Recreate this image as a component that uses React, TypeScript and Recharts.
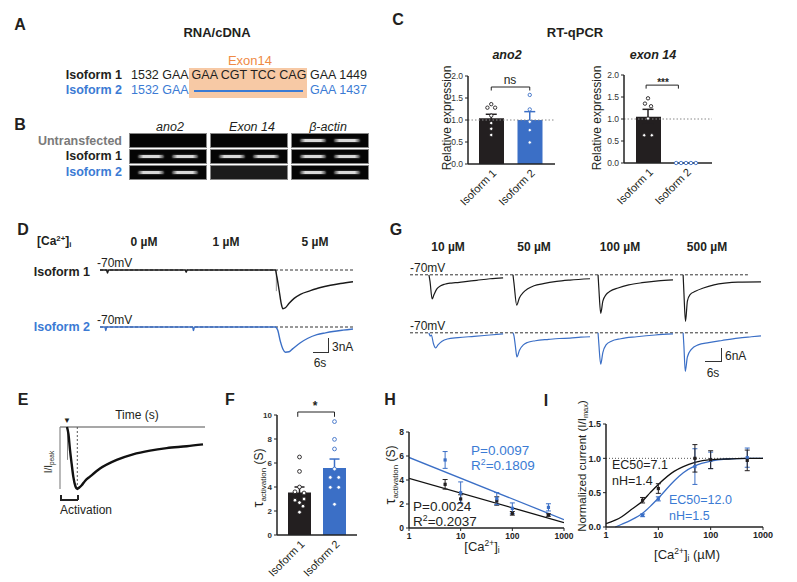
import React from "react";
import {
  ComposedChart,
  LineChart,
  Line,
  Bar,
  Cell,
  Scatter,
  ErrorBar,
  XAxis,
  YAxis,
  ReferenceLine,
} from "recharts";

const FONT = "'Liberation Sans', Arial, Helvetica, sans-serif";
const BLACK = "#231f20";
const BLUE = "#3b6fc6";
const BLUE_TXT = "#3b7bd4";
const ORANGE = "#ef8a45";
const AX = "#222";

// ---- C: RT-qPCR ----
const isoforms = ["Isoform 1", "Isoform 2"];
const ano2Mean = [1.04, 1.0];
const ano2Sem = [0.09, 0.19];
const ano2Iso1 = [1.36, 1.28, 1.28, 1.1, 0.93, 0.8, 0.66];
const ano2Iso1Jit = [0, -0.1, 0.1, 0, 0, 0, 0];
const ano2Iso2 = [1.57, 1.24, 0.96, 0.77, 0.49];
const ano2Iso2Jit = [0, 0, 0, 0, 0];
const exonMean = [1.05, 0];
const exonSem = [0.17, 0];
const exonIso1 = [1.47, 1.35, 1.29, 1.01, 0.63, 0.63];
const exonIso1Jit = [0, -0.08, 0.08, 0, -0.1, 0.1];
const exonIso2 = [0, 0, 0, 0, 0];
const exonIso2Jit = [-0.26, -0.13, 0, 0.13, 0.26];
const relTicks = [0, 0.5, 1, 1.5, 2];

// ---- F: tau activation ----
const tauMean = [3.55, 5.58];
const tauSem = [0.45, 0.75];
const tauIso1 = [6.5, 5.3, 4.0, 3.6, 3.5, 3.0, 2.9, 2.7, 2.4, 1.9];
const tauIso1Jit = [0, 0, 0, -0.13, 0.13, 0.13, -0.13, 0, 0.1, 0];
const tauIso2 = [9.45, 7.97, 7.17, 5.5, 4.8, 4.8, 3.97, 3.97, 2.56];
const tauIso2Jit = [0, 0, 0, 0, -0.12, 0.12, -0.12, 0.12, 0];
const tauTicks = [0, 2, 4, 6, 8, 10];

// ---- H: tau vs Ca ----
const conc = [5, 10, 50, 100, 500];
const hIso1 = [3.64, 2.42, 2.25, 1.22, 1.08];
const hIso1Err = [0.4, 0.35, 0.35, 0.15, 0.1];
const hIso2 = [5.67, 2.94, 2.45, 1.64, 1.72];
const hIso2Err = [0.7, 0.9, 0.5, 0.45, 0.3];
const hFitX = [1, 1000];
const hFit1 = [4.14, 0.45];
const hFit2 = [5.88, 0.7];
const hTicks = [0, 2, 4, 6, 8];
const logTicks = [1, 10, 100, 1000];

// ---- I: dose response ----
const iIso1 = [0.39, 0.56, 1.0, 0.98, 0.97];
const iIso1Err = [0.04, 0.07, 0.2, 0.13, 0.15];
const iIso2 = [0.17, 0.41, 0.88, 0.97, 1.01];
const iIso2Err = [0.02, 0.03, 0.26, 0.12, 0.14];
const iFit1X = [1, 2, 3, 5, 7, 10, 20, 30, 50, 100, 200, 500, 1000];
const iFit1 = [0.05, 0.15, 0.25, 0.38, 0.5, 0.62, 0.81, 0.88, 0.94, 0.98, 0.99, 1.0, 1.0];
const iFit2X = [1.5, 2, 3, 5, 7, 10, 20, 30, 50, 100, 200, 500, 1000];
const iFit2 = [0.0, 0.04, 0.1, 0.2, 0.3, 0.42, 0.67, 0.79, 0.89, 0.96, 0.99, 1.0, 1.0];
const normTicks = [0, 0.5, 1, 1.5];

// ---- D traces (t in s, current in nA) ----
const d1Trace = [[0, 0], [2.6, 0], [3, -0.7], [3.4, 0], [34, 0], [34.4, -0.5], [34.8, 0], [70, 0], [70.6, -1.5], [71.5, -4.5], [72.4, -7.6], [73, -8.6], [74, -8.4], [75.5, -7.4], [77.5, -6.3], [80, -5.4], [84, -4.6], [88, -3.9], [92, -3.4], [96, -3.0], [101, -2.6]];
const d1Artifact = [[70.4, 0], [70.4, -4.7]];
const d2Trace = [[0, 0], [2, 0], [2.3, -0.8], [2.7, 0], [37, 0], [37.3, -0.8], [37.7, 0], [70, 0], [71, -0.8], [72, -3.2], [73, -4.9], [74, -5.6], [75.5, -5.5], [77, -4.8], [80, -3.5], [83, -2.5], [86.6, -1.7], [90, -1.3], [93, -1.0], [97, -0.7], [101, -0.45]];

// ---- G traces ----
const g1Traces = [
  [[7.1, 0], [7.5, -3], [8.3, -11], [9, -9], [10, -6.5], [11.5, -5], [13, -4.3], [15, -3.8], [17, -3.6], [20, -3.2], [25, -2.5], [30, -1.8], [34.9, -1.4]],
  [[38.6, 0], [39, -4], [40, -13.8], [41, -10.5], [42.5, -8], [44, -6.5], [46.5, -5], [50, -4], [55, -3], [60, -2.4], [67.5, -1.8]],
  [[70.5, 0], [70.8, -6], [71.5, -17.5], [72.3, -12], [73.5, -9], [75, -7.5], [78, -6], [82, -4.6], [87, -3.6], [93, -2.8], [98.6, -2.3]],
  [[102.4, 0], [102.7, -8], [103.3, -21.2], [104, -12], [105, -9], [107, -7.5], [110, -6], [114, -4.6], [118, -3.8], [123, -3.3], [131.6, -3.2]],
];
const g2Traces = [
  [[7.1, 0], [7.6, -1.5], [8.0, -1.0], [8.8, -5], [9.6, -6.9], [10.5, -5.5], [12, -3.8], [14, -2.8], [18, -2.2], [24, -1.6], [30, -1.0], [34.9, -0.5]],
  [[38.6, 0], [39, -1.5], [39.5, -6], [40.1, -11], [41, -8], [42.5, -5.5], [44, -4.4], [47, -3.6], [52, -3], [56, -2.6], [60, -2.4], [64, -2.0], [67.5, -1.8]],
  [[70.5, 0], [70.8, -5], [71.5, -14.3], [72.3, -9], [73.5, -5.5], [75.5, -3.8], [79, -2.7], [85, -1.8], [92, -1.0], [98.6, -0.5]],
  [[102.4, 0], [102.7, -6], [103.2, -17.5], [104, -11], [105.5, -7.5], [108, -5.5], [112, -4.5], [117, -3.5], [123, -2.4], [128, -1.8], [131.6, -1.4]],
];

// ---- E trace (normalized) ----
const eTrace = [[7, 0], [8.5, -0.12], [10, -0.37], [11.7, -0.6], [13.3, -0.8], [15.5, -0.96], [17.3, -1], [19, -0.98], [21.7, -0.94], [25, -0.87], [30, -0.8], [40, -0.67], [56.7, -0.53], [73, -0.44], [90, -0.38], [106.7, -0.34], [126.7, -0.31], [143, -0.28]];
const eArtifact = [[7.5, 0], [7.5, -0.53]];

// ---- B gel ----
const gelLanes = ["ano2", "Exon 14", "β-actin"];
const gelRows = ["Untransfected", "Isoform 1", "Isoform 2"];
const gelBands = [
  [false, false, true],
  [true, true, true],
  [true, false, true],
];

const T = ({ x, y, children, size = 12, bold = false, italic = false, color = BLACK, anchor = "middle", rotate = 0 }: any) => {
  const tx = anchor === "middle" ? "-50%" : anchor === "end" ? "-100%" : "0";
  return (
    <div
      style={{
        position: "absolute",
        left: x,
        top: y,
        transform: `translate(${tx}, -50%) rotate(${rotate}deg)`,
        fontSize: size,
        fontWeight: bold ? 700 : 400,
        fontStyle: italic ? "italic" : "normal",
        color,
        whiteSpace: "nowrap",
        lineHeight: 1,
        fontFamily: FONT,
      }}
    >
      {children}
    </div>
  );
};

const Sup = ({ children }: any) => <span style={{ fontSize: "0.65em", verticalAlign: "0.55em" }}>{children}</span>;
const Sub = ({ children }: any) => <span style={{ fontSize: "0.65em", verticalAlign: "-0.3em" }}>{children}</span>;
const CaLabel = () => (
  <>
    [Ca<Sup>2+</Sup>]<Sub>i</Sub>
  </>
);

const HLine = ({ x1, x2, y, color = "#333", w = 1 }: any) => (
  <div style={{ position: "absolute", left: x1, top: y, width: x2 - x1, height: w, background: color }} />
);
const VLine = ({ x, y1, y2, color = "#333", w = 1 }: any) => (
  <div style={{ position: "absolute", left: x, top: y1, width: w, height: y2 - y1, background: color }} />
);

const RotTick = (p: any) => (
  <g transform={`translate(${p.x + 3},${p.y - 1}) rotate(-45)`}>
    <text textAnchor="end" dominantBaseline="central" fontSize={11} fill={BLACK} fontFamily={FONT}>
      {p.payload.value}
    </text>
  </g>
);

const ring = (color: string, r: number) => (p: any) => (
  <circle cx={p.cx} cy={p.cy} r={r} fill="#fff" stroke={color} strokeWidth={0.9} />
);
const square = (color: string) => (p: any) => (
  <rect x={p.cx - 1.6} y={p.cy - 1.6} width={3.2} height={3.2} fill={color} />
);
const none = () => <g />;
const groupColors = [BLACK, BLUE];

function BarPanel(cfg: any) {
  const bars = isoforms.map((name, i) => ({ name, mean: cfg.means[i] }));
  const tickStyle = { fontSize: cfg.tickSize, fontWeight: cfg.tickBold ? 700 : 400, fill: "#333", fontFamily: FONT };
  const axisLine = { stroke: AX, strokeWidth: 1.5 };
  const b = cfg.bracket;
  return (
    <div style={{ position: "absolute", left: cfg.left, top: cfg.top }}>
      <ComposedChart width={cfg.width} height={cfg.height} data={bars} margin={cfg.margin}>
        <XAxis xAxisId="cat" dataKey="name" type="category" padding={cfg.pad} tickLine={false} axisLine={axisLine} height={cfg.xHeight} interval={0} tick={<RotTick />} />
        <XAxis xAxisId="num" dataKey="x" type="number" domain={[0, 2]} padding={cfg.pad} hide />
        <YAxis type="number" domain={cfg.domain} ticks={cfg.ticks} interval={0} tickFormatter={cfg.fmt} width={cfg.yWidth} axisLine={axisLine} tickLine={{ stroke: AX }} tickSize={3} tick={tickStyle} />
        {cfg.dotted != null && <ReferenceLine xAxisId="num" y={cfg.dotted} stroke="#888" strokeDasharray="1.5 2" />}
        <Bar xAxisId="cat" dataKey="mean" barSize={cfg.barSize} isAnimationActive={false}>
          {bars.map((_, i) => (
            <Cell key={i} fill={groupColors[i]} />
          ))}
        </Bar>
        {cfg.means.map((m: number, i: number) =>
          cfg.sems[i] > 0 ? (
            <Scatter key={"e" + i} xAxisId="num" dataKey="y" data={[{ x: i + 0.5, y: m, e: cfg.sems[i] }]} shape={none} isAnimationActive={false}>
              <ErrorBar dataKey="e" direction="y" width={cfg.capW} stroke={groupColors[i]} strokeWidth={1.5} />
            </Scatter>
          ) : null
        )}
        {cfg.points.map((vals: number[], g: number) => (
          <Scatter
            key={"p" + g}
            xAxisId="num"
            dataKey="y"
            data={vals.map((v, k) => ({ x: g + 0.5 + cfg.jit[g][k], y: v }))}
            shape={ring(groupColors[g], cfg.r)}
            isAnimationActive={false}
          />
        ))}
        <ReferenceLine xAxisId="num" segment={[{ x: b.x1, y: b.y }, { x: b.x2, y: b.y }]} stroke={AX} ifOverflow="visible" />
        <ReferenceLine xAxisId="num" segment={[{ x: b.x1, y: b.y }, { x: b.x1, y: b.y - b.d }]} stroke={AX} ifOverflow="visible" />
        <ReferenceLine xAxisId="num" segment={[{ x: b.x2, y: b.y }, { x: b.x2, y: b.y - b.d }]} stroke={AX} ifOverflow="visible" />
      </ComposedChart>
    </div>
  );
}

function Trace({ left, top, width, height, xMax, yDomain, traces, color, base, sw = 1.4 }: any) {
  return (
    <div style={{ position: "absolute", left: left - 6, top: top - 6 }}>
      <LineChart width={width + 12} height={height + 12} margin={{ top: 6, right: 6, bottom: 6, left: 6 }}>
        <XAxis type="number" dataKey="t" domain={[0, xMax]} hide />
        <YAxis type="number" domain={yDomain} hide />
        {base != null && <ReferenceLine segment={[{ x: 0, y: 0 }, { x: base, y: 0 }]} stroke="#333" strokeDasharray="3 2" />}
        {traces.map((tr: number[][], i: number) => (
          <Line
            key={i}
            data={tr.map(([t, v]) => ({ t, i: v }))}
            dataKey="i"
            type="monotone"
            stroke={color}
            strokeWidth={sw}
            dot={false}
            activeDot={false}
            isAnimationActive={false}
          />
        ))}
      </LineChart>
    </div>
  );
}

const xy = (xs: number[], ys: number[], es?: number[]) => xs.map((x, i) => ({ x, y: ys[i], e: es ? es[i] : 0 }));

export default function App() {
  const tickB = { fontSize: 8.5, fontWeight: 700, fill: AX, fontFamily: FONT };
  const axisLine = { stroke: AX, strokeWidth: 1.5 };
  return (
    <div style={{ position: "absolute", left: 0, top: 0, width: 797, height: 582, background: "#fff", fontFamily: FONT, overflow: "hidden" }}>
      {/* panel letters */}
      <T x={20} y={25} size={16} bold>A</T>
      <T x={20} y={125} size={16} bold>B</T>
      <T x={398} y={20} size={16} bold>C</T>
      <T x={23} y={230} size={16} bold>D</T>
      <T x={396} y={230} size={16} bold>G</T>
      <T x={23} y={400} size={16} bold>E</T>
      <T x={230} y={400} size={16} bold>F</T>
      <T x={390} y={400} size={16} bold>H</T>
      <T x={546} y={401} size={16} bold>I</T>

      {/* A */}
      <T x={217} y={32} size={13} bold>RNA/cDNA</T>
      <div style={{ position: "absolute", left: 189, top: 68, width: 118, height: 30, background: "#f7c9a5" }} />
      <T x={250} y={60} size={13} color={ORANGE}>Exon14</T>
      <T x={122} y={75} size={12.5} bold anchor="end">Isoform 1</T>
      <T x={122} y={90} size={12.5} bold anchor="end" color={BLUE_TXT}>Isoform 2</T>
      <T x={131} y={75} size={12.5} anchor="start">1532 GAA</T>
      <T x={249} y={75} size={12.5}>GAA CGT TCC CAG</T>
      <T x={310} y={75} size={12.5} anchor="start">GAA 1449</T>
      <T x={131} y={90} size={12.5} anchor="start" color={BLUE_TXT}>1532 GAA</T>
      <HLine x1={194} x2={303} y={90} color={BLUE_TXT} w={1.5} />
      <T x={310} y={90} size={12.5} anchor="start" color={BLUE_TXT}>GAA 1437</T>

      {/* B */}
      {gelLanes.map((l, c) => (
        <T key={l} x={[170, 252, 328][c]} y={127} size={12.5} italic>{l}</T>
      ))}
      {gelRows.map((r, ri) => (
        <T key={r} x={122} y={[141, 156, 172][ri]} size={12.5} bold anchor="end" color={["#7a7a7a", BLACK, BLUE_TXT][ri]}>{r}</T>
      ))}
      {gelRows.map((r, ri) =>
        [130, 211, 292].map((x0, c) => (
          <div
            key={r + c}
            style={{
              position: "absolute",
              left: x0,
              top: [134, 150, 166][ri],
              width: 76,
              height: 13,
              background: ri === 2 && c === 1 ? "#1c1c1c" : "#050505",
              outline: "1px solid #888",
            }}
          >
            {gelBands[ri][c] &&
              [0.1, 0.55].map((f) => (
                <div
                  key={f}
                  style={{
                    position: "absolute",
                    left: 76 * f,
                    top: 5,
                    width: 76 * 0.35,
                    height: 2.5,
                    borderRadius: 2,
                    background: "linear-gradient(90deg, rgba(160,160,160,0.4), #d8d8d8 20%, #d8d8d8 80%, rgba(160,160,160,0.4))",
                    boxShadow: "0 0 2px #777",
                  }}
                />
              ))}
          </div>
        ))
      )}

      {/* C */}
      <T x={575} y={32} size={13} bold>RT-qPCR</T>
      <T x={507} y={55} size={12.5} bold italic>ano2</T>
      <T x={653} y={55} size={12.5} bold italic>exon 14</T>
      <T x={447} y={118} size={12} rotate={-90}>Relative expression</T>
      <T x={597} y={118} size={12} rotate={-90}>Relative expression</T>
      <BarPanel
        left={430} top={60} width={140} height={160}
        margin={{ top: 16, right: 15, bottom: 0, left: 0 }}
        yWidth={38} xHeight={56} pad={{ left: 4, right: 6 }}
        domain={[0, 2]} ticks={relTicks} fmt={(v: number) => v.toFixed(1)} tickSize={8.5} tickBold={false}
        means={ano2Mean} sems={ano2Sem} points={[ano2Iso1, ano2Iso2]} jit={[ano2Iso1Jit, ano2Iso2Jit]}
        barSize={25} capW={5.5} r={1.7} dotted={1}
        bracket={{ x1: 0.5, x2: 1.5, y: 1.75, d: 0.08 }}
      />
      <T x={510} y={80} size={12}>ns</T>
      <BarPanel
        left={586} top={60} width={140} height={160}
        margin={{ top: 15, right: 14, bottom: 0, left: 0 }}
        yWidth={38} xHeight={57} pad={{ left: 5, right: 7 }}
        domain={[0, 2]} ticks={relTicks} fmt={(v: number) => v.toFixed(1)} tickSize={8.5} tickBold={false}
        means={exonMean} sems={exonSem} points={[exonIso1, exonIso2]} jit={[exonIso1Jit, exonIso2Jit]}
        barSize={25} capW={5.5} r={1.7} dotted={1}
        bracket={{ x1: 0.45, x2: 1.3, y: 1.77, d: 0.08 }}
      />
      <T x={663} y={83} size={10} bold>***</T>

      {/* D */}
      <T x={37} y={242} size={12} bold anchor="start"><CaLabel /></T>
      <T x={144} y={242} size={12} bold>0 µM</T>
      <T x={226} y={242} size={12} bold>1 µM</T>
      <T x={315} y={242} size={12} bold>5 µM</T>
      <T x={90} y={272} size={12.5} bold anchor="end">Isoform 1</T>
      <T x={90} y={327} size={12.5} bold anchor="end" color={BLUE_TXT}>Isoform 2</T>
      <T x={97} y={263} size={12} anchor="start">-70mV</T>
      <T x={97} y={320} size={12} anchor="start">-70mV</T>
      <Trace left={100} top={261} width={253} height={54} xMax={101} yDomain={[-10, 2]} traces={[d1Artifact]} color="#999" base={null} sw={1} />
      <Trace left={100} top={261} width={253} height={54} xMax={101} yDomain={[-10, 2]} traces={[d1Trace]} color="#1a1a1a" base={101} />
      <Trace left={100} top={318} width={253} height={54} xMax={101} yDomain={[-10, 2]} traces={[d2Trace]} color={BLUE} base={101} />
      <HLine x1={313} x2={328} y={352} />
      <VLine x={328} y1={338} y2={353} />
      <T x={332} y={347} size={12} anchor="start">3nA</T>
      <T x={320} y={363} size={12}>6s</T>

      {/* G */}
      <T x={448} y={247} size={12} bold>10 µM</T>
      <T x={534} y={247} size={12} bold>50 µM</T>
      <T x={620} y={247} size={12} bold>100 µM</T>
      <T x={707} y={247} size={12} bold>500 µM</T>
      <T x={410} y={268} size={12} anchor="start">-70mV</T>
      <T x={410} y={326} size={12} anchor="start">-70mV</T>
      <Trace left={410} top={266.2} width={351} height={61.6} xMax={131.6} yDomain={[-24, 4]} traces={g1Traces} color="#1a1a1a" base={126.7} sw={1.2} />
      <Trace left={410} top={324.2} width={351} height={61.6} xMax={131.6} yDomain={[-24, 4]} traces={g2Traces} color={BLUE} base={126.7} sw={1.2} />
      <HLine x1={705} x2={721} y={361} />
      <VLine x={721} y1={348} y2={362} />
      <T x={725} y={356} size={12} anchor="start">6nA</T>
      <T x={713} y={373} size={12}>6s</T>

      {/* E */}
      <T x={137} y={415} size={12}>Time (s)</T>
      <T x={67} y={421} size={8}>▼</T>
      <T x={50} y={462} size={10} rotate={-90}>I/I<Sub>peak</Sub></T>
      <div style={{ position: "absolute", left: 54, top: 421 }}>
        <LineChart width={157} height={74} margin={{ top: 6, right: 6, bottom: 6, left: 6 }}>
          <XAxis type="number" dataKey="t" domain={[0, 145]} hide />
          <YAxis type="number" domain={[-1, 0]} hide />
          <ReferenceLine y={0} stroke="#8a8a8a" strokeWidth={1.5} />
          <ReferenceLine segment={[{ x: 0, y: 0 }, { x: 0, y: -1 }]} stroke="#8a8a8a" strokeWidth={1.2} />
          <ReferenceLine segment={[{ x: 17.3, y: 0 }, { x: 17.3, y: -1 }]} stroke="#555" strokeDasharray="2 2" />
          <Line data={eArtifact.map(([t, v]) => ({ t, i: v }))} dataKey="i" stroke="#888" strokeWidth={1} dot={false} activeDot={false} isAnimationActive={false} />
          <Line data={eTrace.map(([t, v]) => ({ t, i: v }))} dataKey="i" type="monotone" stroke="#111" strokeWidth={2.4} dot={false} activeDot={false} isAnimationActive={false} />
        </LineChart>
      </div>
      <HLine x1={60} x2={78} y={499} color="#222" w={1.5} />
      <VLine x={60} y1={495} y2={500} color="#222" w={1.5} />
      <VLine x={77} y1={495} y2={500} color="#222" w={1.5} />
      <T x={60} y={510} size={12} anchor="start">Activation</T>

      {/* F */}
      <T x={259} y={478} size={12} rotate={-90}>
        <span style={{ fontSize: 15 }}>τ</span>
        <span style={{ fontSize: 8, verticalAlign: "-0.4em" }}>activation</span> (S)
      </T>
      <BarPanel
        left={247} top={400} width={125} height={182}
        margin={{ top: 15, right: 15, bottom: 0, left: 0 }}
        yWidth={30} xHeight={47} pad={{ left: 5, right: 5 }}
        domain={[0, 10]} ticks={tauTicks} fmt={(v: number) => String(v)} tickSize={8} tickBold
        means={tauMean} sems={tauSem} points={[tauIso1, tauIso2]} jit={[tauIso1Jit, tauIso2Jit]}
        barSize={23} capW={5} r={1.9} dotted={null}
        bracket={{ x1: 0.45, x2: 1.5, y: 10.25, d: 0.4 }}
      />
      <T x={315} y={406} size={12} bold>*</T>

      {/* H */}
      <T x={391} y={475} size={12} rotate={-90}>
        <span style={{ fontSize: 15 }}>τ</span>
        <span style={{ fontSize: 8, verticalAlign: "-0.4em" }}>activation</span> (S)
      </T>
      <div style={{ position: "absolute", left: 379, top: 420 }}>
        <ComposedChart width={200} height={130} margin={{ top: 12, right: 15, bottom: 0, left: 0 }}>
          <XAxis type="number" dataKey="x" scale="log" domain={[1, 1000]} ticks={logTicks} interval={0} allowDataOverflow height={22} axisLine={axisLine} tickLine={{ stroke: AX }} tickSize={3} tick={tickB} />
          <YAxis type="number" domain={[0, 8]} ticks={hTicks} interval={0} width={30} axisLine={axisLine} tickLine={{ stroke: AX }} tickSize={3} tick={tickB} />
          <Line data={xy(hFitX, hFit2)} dataKey="y" stroke={BLUE} strokeWidth={1.3} dot={false} activeDot={false} isAnimationActive={false} />
          <Line data={xy(hFitX, hFit1)} dataKey="y" stroke="#111" strokeWidth={1.3} dot={false} activeDot={false} isAnimationActive={false} />
          <Scatter data={xy(conc, hIso1, hIso1Err)} dataKey="y" shape={square(BLACK)} isAnimationActive={false}>
            <ErrorBar dataKey="e" direction="y" width={2.5} stroke={BLACK} strokeWidth={1} />
          </Scatter>
          <Scatter data={xy(conc, hIso2, hIso2Err)} dataKey="y" shape={square(BLUE)} isAnimationActive={false}>
            <ErrorBar dataKey="e" direction="y" width={2.5} stroke={BLUE} strokeWidth={1} />
          </Scatter>
        </ComposedChart>
      </div>
      <T x={471} y={451} size={13.5} anchor="start" color={BLUE_TXT}>P=0.0097</T>
      <T x={471} y={465} size={13.5} anchor="start" color={BLUE_TXT}>R<Sup>2</Sup>=0.1809</T>
      <T x={413} y={507} size={13.5} anchor="start">P=0.0024</T>
      <T x={413} y={521} size={13.5} anchor="start">R<Sup>2</Sup>=0.2037</T>
      <T x={482} y={547} size={13}><CaLabel /></T>

      {/* I */}
      <T x={583} y={466} size={11.5} rotate={-90}>Normalized current (I/I<Sub>max</Sub>)</T>
      <div style={{ position: "absolute", left: 576, top: 410 }}>
        <ComposedChart width={200} height={140} margin={{ top: 14, right: 13, bottom: 0, left: 0 }}>
          <XAxis type="number" dataKey="x" scale="log" domain={[1, 1000]} ticks={logTicks} interval={0} allowDataOverflow height={23} axisLine={axisLine} tickLine={{ stroke: AX }} tickSize={3} tick={{ ...tickB, fontSize: 9 }} />
          <YAxis type="number" domain={[0, 1.5]} ticks={normTicks} interval={0} tickFormatter={(v: number) => v.toFixed(1)} width={30} axisLine={axisLine} tickLine={{ stroke: AX }} tickSize={3} tick={{ ...tickB, fontSize: 9 }} />
          <ReferenceLine y={1} stroke="#555" strokeDasharray="1 2" />
          <Line data={xy(iFit2X, iFit2)} dataKey="y" type="monotone" stroke={BLUE} strokeWidth={1.3} dot={false} activeDot={false} isAnimationActive={false} />
          <Line data={xy(iFit1X, iFit1)} dataKey="y" type="monotone" stroke="#111" strokeWidth={1.3} dot={false} activeDot={false} isAnimationActive={false} />
          <Scatter data={xy(conc, iIso2, iIso2Err)} dataKey="y" shape={square(BLUE)} isAnimationActive={false}>
            <ErrorBar dataKey="e" direction="y" width={2.5} stroke={BLUE} strokeWidth={1} />
          </Scatter>
          <Scatter data={xy(conc, iIso1, iIso1Err)} dataKey="y" shape={square(BLACK)} isAnimationActive={false}>
            <ErrorBar dataKey="e" direction="y" width={2.5} stroke={BLACK} strokeWidth={1} />
          </Scatter>
        </ComposedChart>
      </div>
      <T x={612} y={465} size={12.5} anchor="start">EC50=7.1</T>
      <T x={612} y={481} size={12.5} anchor="start">nH=1.4</T>
      <T x={669} y={500} size={12.5} anchor="start" color={BLUE_TXT}>EC50=12.0</T>
      <T x={669} y={516} size={12.5} anchor="start" color={BLUE_TXT}>nH=1.5</T>
      <T x={687} y={555} size={13}><CaLabel /> (µM)</T>
    </div>
  );
}
